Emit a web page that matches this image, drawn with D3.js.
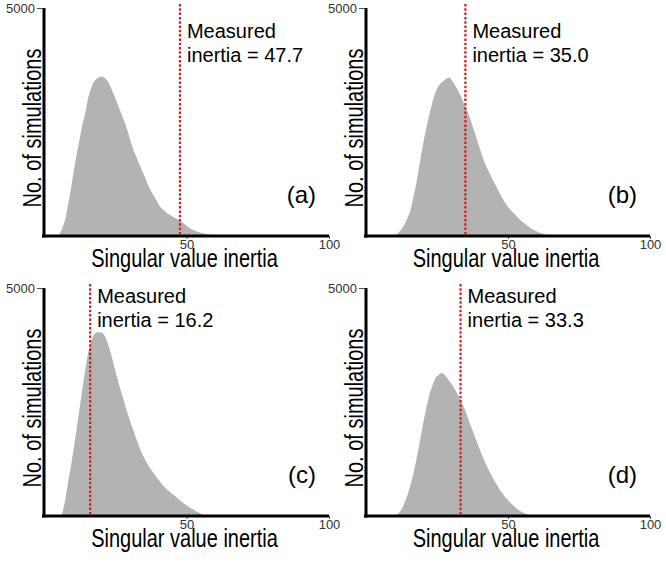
<!DOCTYPE html>
<html>
<head>
<meta charset="utf-8">
<script src="https://cdn.jsdelivr.net/npm/d3@7"></script>
<style>
  html, body { margin: 0; padding: 0; background: #fff; }
  svg { display: block; font-family: "Liberation Sans", Arial, sans-serif; }
</style>
</head>
<body>
<svg id="chart" width="666" height="563"></svg>
<script>
// ---------------- data ----------------
const panelLabels = ["(a)", "(b)", "(c)", "(d)"];
const measuredInertia = [47.7, 35.0, 16.2, 33.3];
const xTickValues = [50, 100];
const yTickValues = [5000];
const xTitle = "Singular value inertia";
const yTitle = "No. of simulations";
const binWidth = 1;

// histogram counts (1-unit bins)
const binStartA = 5;
const countsA = [40, 180, 370, 700, 1060, 1440, 1810, 2130, 2450, 2700, 3030, 3240, 3390, 3450, 3490, 3500,
  3460, 3390, 3250, 3100, 2950, 2780, 2620, 2460, 2270, 2050, 1860, 1720, 1560, 1420, 1270, 1120, 990, 880,
  780, 660, 590, 540, 490, 450, 410, 380, 340, 300, 250, 200, 160, 130, 100, 80, 60, 50, 40, 30, 20, 10];

const binStartB = 10;
const countsB = [20, 70, 150, 240, 380, 520, 800, 1080, 1440, 1810, 2150, 2450, 2720, 2960, 3160, 3290,
  3360, 3410, 3460, 3480, 3390, 3290, 3180, 3060, 2900, 2760, 2610, 2420, 2230, 2030, 1840, 1650, 1500,
  1380, 1250, 1130, 1010, 890, 780, 680, 600, 530, 470, 400, 340, 290, 240, 200, 150, 120, 90, 65, 45, 30, 20, 12, 5];

const binStartC = 6;
const countsC = [80, 360, 760, 1110, 1510, 1930, 2370, 2800, 3220, 3590, 3820, 3980, 4030, 4030, 4020, 3930,
  3760, 3560, 3310, 3070, 2840, 2640, 2420, 2220, 2030, 1850, 1680, 1500, 1350, 1240, 1120, 1020, 940, 850,
  770, 690, 620, 560, 510, 460, 410, 350, 300, 260, 210, 170, 140, 100, 70, 35];

const binStartD = 10;
const countsD = [10, 60, 140, 280, 440, 640, 880, 1160, 1480, 1820, 2150, 2450, 2710, 2880, 3030, 3090,
  3140, 3110, 3030, 2950, 2860, 2760, 2640, 2530, 2380, 2220, 2040, 1880, 1710, 1550, 1390, 1240, 1100,
  970, 850, 740, 640, 540, 460, 380, 310, 250, 190, 140, 100, 70, 40, 15];

const binStarts = [binStartA, binStartB, binStartC, binStartD];
const countSeries = [countsA, countsB, countsC, countsD];

// ---------------- layout ----------------
const layout = [
  { x0: 44,  x1: 329, yTop: 8,   yBase: 236, textDy: 30 },
  { x0: 366, x1: 650, yTop: 8,   yBase: 236, textDy: 30 },
  { x0: 44,  x1: 329, yTop: 288, yBase: 516, textDy: 15 },
  { x0: 366, x1: 650, yTop: 288, yBase: 516, textDy: 15 }
];
const titleFont = 25, titleSqueeze = 0.8;

const svg = d3.select("#chart");

layout.forEach((L, i) => {
  const g = svg.append("g");
  const x = d3.scaleLinear().domain([0, 100]).range([L.x0, L.x1]);
  const y = d3.scaleLinear().domain([0, 5000]).range([L.yBase, L.yTop]);

  // histogram outline through bin centres
  const start = binStarts[i];
  const pts = [[start, 0]].concat(
    countSeries[i].map((c, k) => [start + (k + 0.5) * binWidth, c]),
    [[start + countSeries[i].length * binWidth, 0]]
  );
  const area = d3.area()
    .x(d => x(d[0]))
    .y0(y(0))
    .y1(d => y(d[1]))
    .curve(d3.curveLinear);
  g.append("path").datum(pts)
    .attr("d", area)
    .attr("fill", "#b3b3b3");

  // x axis ticks / labels
  const xa = g.append("g")
    .attr("transform", `translate(0,${L.yBase})`)
    .call(d3.axisBottom(x).tickValues(xTickValues).tickSize(3).tickPadding(1).tickFormat(d3.format("d")));
  xa.select(".domain").remove();
  xa.selectAll(".tick line").attr("stroke", "#555");
  xa.selectAll(".tick text").attr("font-size", 13).attr("fill", "#333")
    .attr("font-family", "'Liberation Sans', Arial, sans-serif");

  // y axis ticks / labels
  const ya = g.append("g")
    .attr("transform", `translate(${L.x0},0)`)
    .call(d3.axisLeft(y).tickValues(yTickValues).tickSize(7).tickPadding(2).tickFormat(d3.format("d")));
  ya.select(".domain").remove();
  ya.selectAll(".tick line").attr("stroke", "#555");
  ya.selectAll(".tick text").attr("font-size", 13).attr("fill", "#333")
    .attr("font-family", "'Liberation Sans', Arial, sans-serif");

  // thick axis lines
  g.append("line")
    .attr("x1", L.x0 - 2).attr("x2", L.x1)
    .attr("y1", L.yBase).attr("y2", L.yBase)
    .attr("stroke", "#000").attr("stroke-width", 3);
  g.append("line")
    .attr("x1", L.x0).attr("x2", L.x0)
    .attr("y1", L.yTop).attr("y2", L.yBase + 1.5)
    .attr("stroke", "#000").attr("stroke-width", 3);

  // measured line
  const mx = x(measuredInertia[i]);
  g.append("line")
    .attr("x1", mx).attr("x2", mx)
    .attr("y1", L.yTop - 4).attr("y2", L.yBase)
    .attr("stroke", "#d02020").attr("stroke-width", 2.2)
    .attr("stroke-dasharray", "2.5,1.8");

  const t = g.append("text")
    .attr("font-size", 20).attr("fill", "#000");
  t.append("tspan").attr("x", mx + 7).attr("y", L.yTop + L.textDy).text("Measured");
  t.append("tspan").attr("x", mx + 7).attr("y", L.yTop + L.textDy + 24)
    .text("inertia = " + measuredInertia[i].toFixed(1));

  // panel label
  g.append("text")
    .attr("x", L.x1 - 13).attr("y", L.yBase - 33)
    .attr("text-anchor", "end")
    .attr("font-size", 24).attr("fill", "#000")
    .text(panelLabels[i]);

  // axis titles (narrow, tall lettering as in the reference)
  g.append("text")
    .attr("transform", `translate(${(L.x0 + L.x1) / 2 - 2},${L.yBase + 31}) scale(${titleSqueeze},1)`)
    .attr("text-anchor", "middle")
    .attr("font-size", titleFont).attr("fill", "#000")
    .text(xTitle);
  g.append("text")
    .attr("transform", `translate(${L.x0 - 3},${(L.yTop + L.yBase) / 2 + 6}) rotate(-90) scale(${titleSqueeze},1)`)
    .attr("text-anchor", "middle")
    .attr("font-size", titleFont).attr("fill", "#000")
    .text(yTitle);
});
</script>
</body>
</html>
